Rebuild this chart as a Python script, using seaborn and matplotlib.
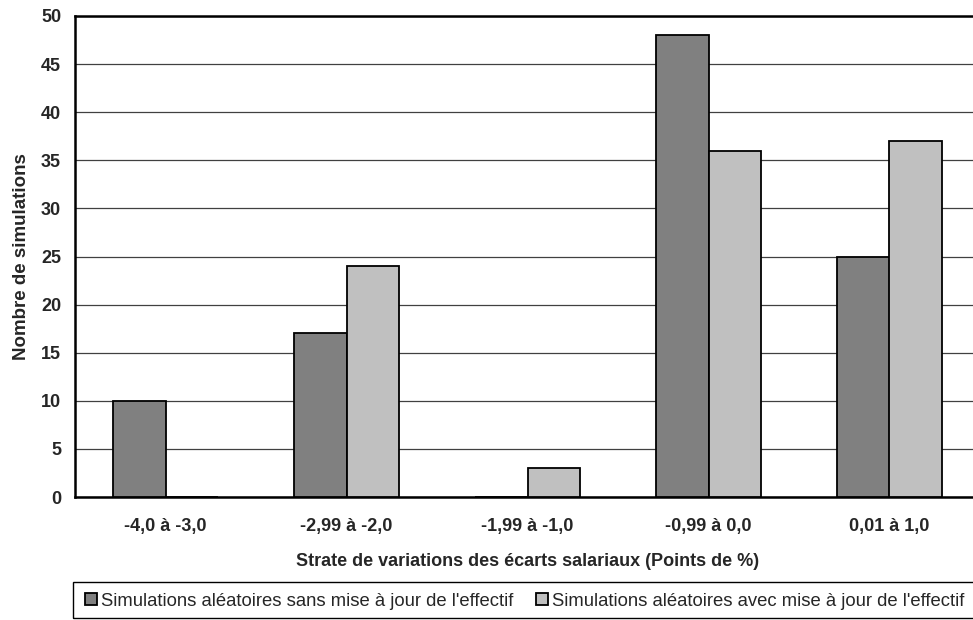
import pandas as pd
import matplotlib.pyplot as plt
import seaborn as sns
from matplotlib.patches import Rectangle

# ------------------------------------------
# Data
# ------------------------------------------
strates = ["-4,0 à -3,0", "-2,99 à -2,0", "-1,99 à -1,0", "-0,99 à 0,0", "0,01 à 1,0"]
sans_maj = [10, 17, 0, 48, 25]
avec_maj = [0, 24, 3, 36, 37]
series = ["Simulations aléatoires sans mise à jour de l'effectif",
          "Simulations aléatoires avec mise à jour de l'effectif"]

df = pd.DataFrame({
    "strate": strates * 2,
    "n": sans_maj + avec_maj,
    "serie": [series[0]] * len(strates) + [series[1]] * len(strates),
})

# ------------------------------------------
# Style
# ------------------------------------------
sns.set_style("white")
plt.rcParams['font.family'] = ['Liberation Sans', 'DejaVu Sans']

W, H = 973, 620
fig = plt.figure(figsize=(W / 100, H / 100), dpi=100)
# plot area runs past the right edge of the picture, like the original
ax = fig.add_axes([75 / W, 1 - 497 / H, 905 / W, 481 / H])

sns.barplot(data=df, x="strate", y="n", hue="serie",
            palette=["#808080", "#c0c0c0"], width=0.58,
            edgecolor="black", linewidth=1.3, saturation=1,
            errorbar=None, ax=ax, zorder=3)

ax.set_ylim(0, 50)
ax.set_xlim(-0.5, len(strates) - 0.5)
ax.set_yticks(range(0, 51, 5))
ax.yaxis.grid(True, color="#404040", linewidth=0.9, zorder=0)
ax.set_axisbelow(True)

for s in ax.spines.values():
    s.set_color("black")
    s.set_linewidth(1.8)
    s.set_visible(True)

ax.tick_params(axis="y", direction="in", length=4, width=1, pad=10,
               labelsize=13)
for lab in ax.get_yticklabels():
    lab.set_fontweight("bold")
ax.tick_params(axis="x", which="major", length=0, pad=15, labelsize=13)
for lab in ax.get_xticklabels():
    lab.set_fontweight("bold")
ax.set_xticks([i + 0.5 for i in range(len(strates) - 1)], minor=True)
ax.tick_params(axis="x", which="minor", direction="in", length=5, width=1)

ax.set_xlabel("Strate de variations des écarts salariaux (Points de %)",
              fontsize=13, fontweight="bold", labelpad=13)
ax.set_ylabel("Nombre de simulations", fontsize=13.5, fontweight="bold",
              labelpad=8)

# ------------------------------------------
# Legend (boxed, below the chart, frame runs past the right edge)
# ------------------------------------------
handles, labels = ax.get_legend_handles_labels()
ax.get_legend().remove()
fig.patches.append(Rectangle((73 / W, 1 - 618 / H), 1.0, 36 / H,
                             transform=fig.transFigure, fill=False,
                             edgecolor="black", linewidth=1.0))
leg = fig.legend(handles, labels, loc="center left",
                 bbox_to_anchor=(85 / W, 1 - 601 / H), ncol=2,
                 frameon=False, fontsize=13.3,
                 handlelength=0.65, handleheight=0.65, handletextpad=0.22,
                 columnspacing=1.2, borderpad=0, borderaxespad=0)

plt.savefig("out.png", dpi=100)
